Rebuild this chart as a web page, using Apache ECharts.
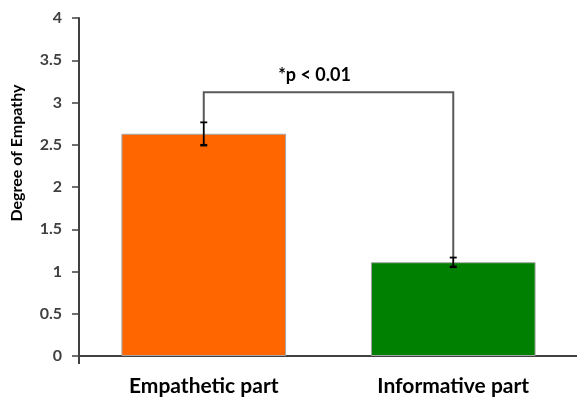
<!DOCTYPE html>
<html>
<head>
<meta charset="utf-8">
<script src="https://cdn.jsdelivr.net/npm/echarts@6/dist/echarts.min.js"></script>
<style>
  html, body { margin: 0; padding: 0; background: #fff; }
  #chart { width: 577px; height: 399px; }
</style>
</head>
<body>
<div id="chart"></div>
<script>
// Mean empathy rating per part of the response, with error bars
const categories = ['Empathetic part', 'Informative part'];
const means = [2.63, 1.11];
const errors = [0.135, 0.055];
const barColors = ['#FF6600', '#008000'];
const yTicks = [0, 0.5, 1, 1.5, 2, 2.5, 3, 3.5, 4];
const yTitle = 'Degree of Empathy';

// Significance bracket joining the two bars
const bracketLevel = 3.12;
const significanceText = '*p < 0.01';

const FONT = 'Lato, "Open Sans", sans-serif';

const chart = echarts.init(document.getElementById('chart'), null, { renderer: 'canvas' });

const barData = means.map((v, i) => ({
  value: v,
  itemStyle: { color: barColors[i] }
}));

const errData = means.map((v, i) => [i, v - errors[i], v + errors[i]]);

chart.setOption({
  animation: false,
  backgroundColor: '#ffffff',
  grid: {
    left: 79, right: -1, top: 18, bottom: 43,
    containLabel: false,
    outerBoundsMode: 'none'
  },
  // vertical axis title, sitting a little above the axis middle
  graphic: [{
    type: 'text',
    x: 17,
    y: 153,
    rotation: Math.PI / 2,
    style: {
      text: yTitle,
      textAlign: 'center',
      textVerticalAlign: 'middle',
      fill: '#000',
      font: 'bold 16px ' + FONT
    }
  }],
  xAxis: {
    type: 'category',
    data: categories,
    axisLine: { lineStyle: { color: '#404040', width: 2 } },
    axisTick: {
      show: true,
      length: 8,
      interval: (i) => i === 0,
      lineStyle: { color: '#404040', width: 2 }
    },
    axisLabel: {
      margin: 20,
      color: '#000',
      fontFamily: FONT,
      fontWeight: 'bold',
      fontSize: 21
    }
  },
  yAxis: {
    type: 'value',
    min: yTicks[0],
    max: yTicks[yTicks.length - 1],
    interval: 0.5,
    splitLine: { show: false },
    axisLine: { show: true, lineStyle: { color: '#404040', width: 2 } },
    axisTick: { show: true, length: 7, lineStyle: { color: '#404040', width: 1.5 } },
    axisLabel: {
      margin: 17,
      color: '#404040',
      fontFamily: FONT,
      fontWeight: 'bold',
      fontSize: 16
    }
  },
  series: [
    {
      type: 'bar',
      data: barData,
      barWidth: '66%',
      itemStyle: { borderColor: '#a6a6a6', borderWidth: 1 },
      z: 2
    },
    {
      // error bars
      type: 'custom',
      data: errData,
      z: 4,
      renderItem: (params, api) => {
        const x = api.value(0);
        const lo = api.coord([x, api.value(1)]);
        const hi = api.coord([x, api.value(2)]);
        const cap = 3.5;
        const style = { stroke: '#000', lineWidth: 1.8 };
        return {
          type: 'group',
          children: [
            { type: 'line', shape: { x1: lo[0], y1: lo[1], x2: hi[0], y2: hi[1] }, style },
            { type: 'line', shape: { x1: hi[0] - cap, y1: hi[1], x2: hi[0] + cap, y2: hi[1] }, style },
            { type: 'line', shape: { x1: lo[0] - cap, y1: lo[1], x2: lo[0] + cap, y2: lo[1] }, style: { stroke: '#000', lineWidth: 2.5 } }
          ]
        };
      }
    },
    {
      // significance bracket and its label
      type: 'custom',
      data: [[0, means[0] + errors[0], 1, means[1] + errors[1], bracketLevel]],
      z: 3,
      renderItem: (params, api) => {
        const a = api.coord([api.value(0), api.value(1)]);
        const b = api.coord([api.value(2), api.value(3)]);
        const yTop = api.coord([0, api.value(4)])[1];
        return {
          type: 'group',
          children: [
            {
              type: 'polyline',
              shape: { points: [[a[0], a[1]], [a[0], yTop], [b[0], yTop], [b[0], b[1]]] },
              style: { stroke: '#595959', lineWidth: 2, fill: null }
            },
            {
              type: 'text',
              style: {
                text: significanceText,
                x: (a[0] + b[0]) / 2 - 14,
                y: yTop - 8,
                textAlign: 'center',
                textVerticalAlign: 'bottom',
                fill: '#000',
                font: 'bold 18px ' + FONT
              }
            }
          ]
        };
      }
    }
  ]
});
</script>
</body>
</html>
